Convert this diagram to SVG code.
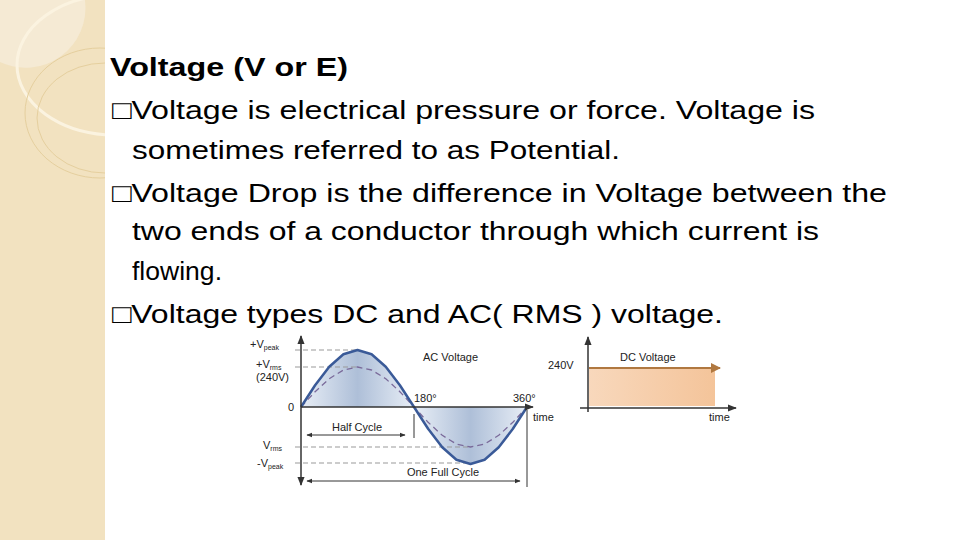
<svg xmlns="http://www.w3.org/2000/svg" width="960" height="540" viewBox="0 0 960 540">
<defs>
<style>
.t{font-family:"Liberation Sans",Arial,sans-serif;font-size:26px;fill:#000}
.s{font-family:"Liberation Sans",Arial,sans-serif;font-size:11px;fill:#222}
.d{stroke:#999;stroke-width:1;stroke-dasharray:5,3;fill:none}
.ax{stroke:#333;stroke-width:1.5;fill:none}
</style>
<marker id="ah" viewBox="0 0 10 10" refX="9" refY="5" markerWidth="6" markerHeight="6" orient="auto-start-reverse"><path d="M0,1L10,5L0,9z" fill="#333"/></marker>
<marker id="oa" viewBox="0 0 10 10" refX="9" refY="5" markerWidth="5" markerHeight="5" orient="auto"><path d="M0,0L10,5L0,10z" fill="#b07840"/></marker>
<linearGradient id="bl" x1="0" x2="1"><stop offset="0" stop-color="#e8eef6"/><stop offset="0.25" stop-color="#aebfd8"/><stop offset="0.5" stop-color="#e8eef6"/><stop offset="0.75" stop-color="#aebfd8"/><stop offset="1" stop-color="#e8eef6"/></linearGradient>
<linearGradient id="or" x1="0" x2="1"><stop offset="0" stop-color="#f8d8bc"/><stop offset="1" stop-color="#f4c49a"/></linearGradient>
<clipPath id="sc"><rect width="105" height="540"/></clipPath>
</defs>
<rect width="960" height="540" fill="#fff"/>
<g id="sidebar" clip-path="url(#sc)">
<rect width="105" height="540" fill="#f2e2c0"/>
<path d="M0,0H85A60,60 0 0 1 0,62Z" fill="#f5ead4"/>
<ellipse cx="115" cy="65" rx="98" ry="70" fill="none" stroke="#fbf3e0" stroke-width="3"/>
<ellipse cx="100" cy="113" rx="75" ry="65" fill="none" stroke="#e5cf9e" stroke-width="1"/>
<ellipse cx="105" cy="118" rx="68" ry="55" fill="none" stroke="#e5cf9e" stroke-width="1"/>
</g>
<g id="text">
<text class="t" x="110" y="76" font-weight="bold" textLength="238" lengthAdjust="spacingAndGlyphs">Voltage (V or E)</text>
<text class="t" x="112" y="119" textLength="703" lengthAdjust="spacingAndGlyphs">□Voltage is electrical pressure or force. Voltage is</text>
<text class="t" x="132" y="159" textLength="488" lengthAdjust="spacingAndGlyphs">sometimes referred to as Potential.</text>
<text class="t" x="112" y="202" textLength="775" lengthAdjust="spacingAndGlyphs">□Voltage Drop is the difference in Voltage between the</text>
<text class="t" x="132" y="240" textLength="687" lengthAdjust="spacingAndGlyphs">two ends of a conductor through which current is</text>
<text class="t" x="132" y="280" textLength="90" lengthAdjust="spacingAndGlyphs">flowing.</text>
<text class="t" x="112" y="323" textLength="611" lengthAdjust="spacingAndGlyphs">□Voltage types DC and AC( RMS ) voltage.</text>
</g>
<g id="ac-chart">
<polygon points="301,407 315.1,385.2 329.25,366.7 343.4,354.3 357.5,350 371.6,354.3 385.75,366.7 399.9,385.2 414,407 428.1,428.8 442.25,447.3 456.4,459.7 470.5,464 484.6,459.7 498.75,447.3 512.9,428.8 527,407" fill="url(#bl)"/>
<path class="d" d="M295,350H357M295,367H357M295,447H470M295,463H470"/>
<polyline points="301,407 315.1,391.7 329.25,378.7 343.4,370 357.5,367 371.6,370 385.75,378.7 399.9,391.7 414,407 428.1,422.3 442.25,435.3 456.4,444 470.5,447 484.6,444 498.75,435.3 512.9,422.3 527,407" fill="none" stroke="#7a6a9a" stroke-width="1.3" stroke-dasharray="6,4" stroke-linejoin="round"/>
<polyline points="301,407 315.1,385.2 329.25,366.7 343.4,354.3 357.5,350 371.6,354.3 385.75,366.7 399.9,385.2 414,407 428.1,428.8 442.25,447.3 456.4,459.7 470.5,464 484.6,459.7 498.75,447.3 512.9,428.8 527,407" fill="none" stroke="#3a5a98" stroke-width="2.5" stroke-linejoin="round"/>
<line class="ax" x1="301" y1="485" x2="301" y2="336" marker-end="url(#ah)" marker-start="url(#ah)"/>
<line class="ax" x1="301" y1="407" x2="533" y2="407" marker-end="url(#ah)"/>
<line x1="414" y1="414" x2="414" y2="438" stroke="#333"/>
<line x1="527" y1="410" x2="527" y2="487" stroke="#333"/>
<line x1="307" y1="435" x2="405" y2="435" stroke="#333" marker-start="url(#ah)" marker-end="url(#ah)"/>
<line x1="307" y1="481" x2="520" y2="481" stroke="#333" marker-start="url(#ah)" marker-end="url(#ah)"/>
<text class="s" x="250" y="348">+V<tspan font-size="7" dy="2">peak</tspan></text>
<text class="s" x="256" y="368">+V<tspan font-size="7" dy="2">rms</tspan></text>
<text class="s" x="256" y="381">(240V)</text>
<text class="s" x="288" y="411">0</text>
<text class="s" x="263" y="449">V<tspan font-size="7" dy="2">rms</tspan></text>
<text class="s" x="257" y="467">-V<tspan font-size="7" dy="2">peak</tspan></text>
<text class="s" x="423" y="361">AC Voltage</text>
<text class="s" x="414" y="402">180°</text>
<text class="s" x="513" y="402">360°</text>
<text class="s" x="533" y="421">time</text>
<text class="s" x="357" y="431" text-anchor="middle">Half Cycle</text>
<text class="s" x="443" y="476" text-anchor="middle">One Full Cycle</text>
</g>
<g id="dc-chart">
<rect x="589" y="368" width="126" height="38" fill="url(#or)"/>
<line x1="589" y1="368" x2="720" y2="368" stroke="#b07840" stroke-width="2" marker-end="url(#oa)"/>
<line class="ax" x1="588" y1="412" x2="588" y2="337" marker-end="url(#ah)"/>
<line class="ax" x1="580" y1="408" x2="736" y2="408" marker-end="url(#ah)"/>
<text class="s" x="548" y="369">240V</text>
<text class="s" x="620" y="361">DC Voltage</text>
<text class="s" x="709" y="421">time</text>
</g>
</svg>
